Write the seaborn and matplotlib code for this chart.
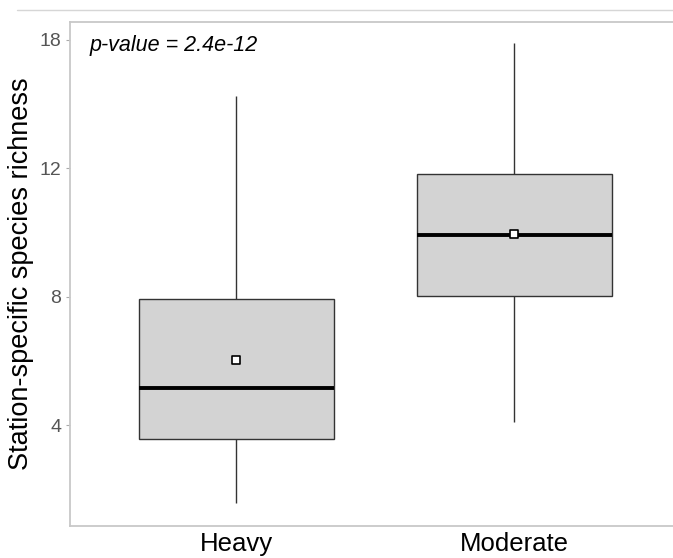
import matplotlib
matplotlib.use("Agg")
import matplotlib.pyplot as plt
from matplotlib.lines import Line2D
import seaborn as sns
import pandas as pd

# Grazing intensity groups
groups = ["Heavy", "Moderate"]

# Five-number summaries (min, Q1, median, Q3, max) per group
heavy_summary = [1.57, 3.57, 5.14, 7.91, 14.24]
moderate_summary = [4.09, 8.02, 9.91, 11.81, 15.88]

# Group means
group_means = [6.02, 9.95]

# Y axis ticks and their labels
y_tick_values = [4, 8, 12, 16]
y_tick_labels = ["4", "8", "12", "18"]

p_value_text = "p-value = 2.4e-12"

df = pd.DataFrame({
    "group": [groups[0]] * len(heavy_summary) + [groups[1]] * len(moderate_summary),
    "richness": heavy_summary + moderate_summary,
})

sns.set_theme(style="white")
plt.rcParams["font.family"] = ["Liberation Sans", "DejaVu Sans"]

fig = plt.figure(figsize=(6.73, 5.58), dpi=100)
left, right = 69.5 / 673, 681 / 673
bottom, top = (558 - 525.5) / 558, (558 - 22) / 558
ax = fig.add_axes([left, bottom, right - left, top - bottom])

sns.boxplot(
    data=df, x="group", y="richness", order=groups, ax=ax,
    width=0.7, whis=(0, 100), color="#d3d3d3", saturation=1,
    linecolor="#333333", linewidth=1.0, showcaps=False,
    medianprops=dict(color="black", linewidth=2.8),
)

sns.scatterplot(
    x=groups, y=group_means, ax=ax, marker="s", s=32,
    color="white", edgecolor="black", linewidth=1.2, zorder=5,
)

ax.set_xlim(-0.6, 1.6)
ax.set_ylim(0.872, 16.545)
ax.set_yticks(y_tick_values)
ax.set_yticklabels(y_tick_labels)
ax.set_xlabel("")
ax.set_ylabel("Station-specific species richness", fontsize=19.5, color="black", labelpad=4)

ax.tick_params(axis="y", which="both", left=True, length=3, width=0.8,
               color="#aaaaaa", labelsize=14, labelcolor="#555555", pad=3)
ax.tick_params(axis="x", which="both", bottom=False, length=0,
               labelsize=18.5, labelcolor="black", pad=5)

for name, spine in ax.spines.items():
    spine.set_visible(name != "right")
    spine.set_color("#c8c8c8")
    spine.set_linewidth(1.3)

ax.text(20.5 / 611.5, 1 - 23 / 503.5, p_value_text, transform=ax.transAxes,
        fontsize=15.5, style="italic", color="black", ha="left", va="center")

fig.add_artist(Line2D([17 / 673, 1.0], [1 - 10 / 558, 1 - 10 / 558],
                      transform=fig.transFigure, color="#d6d6d6", linewidth=1.0))

fig.savefig("out.png", dpi=100)
